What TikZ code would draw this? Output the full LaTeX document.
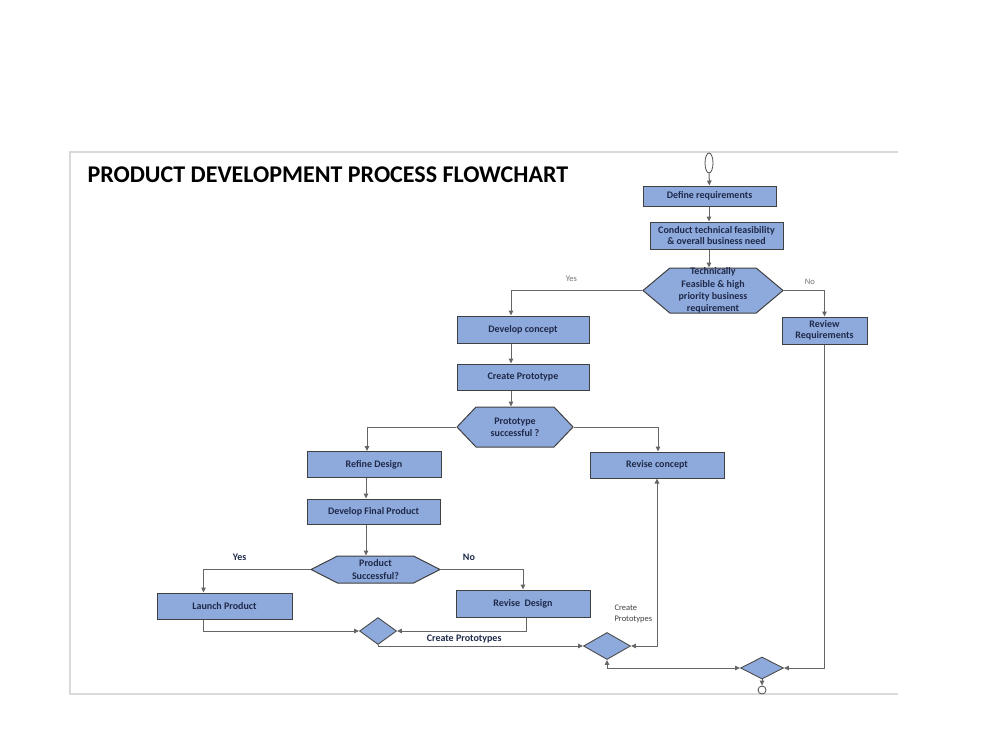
\documentclass[tikz,border=0pt]{standalone}
\usepackage{fontspec}
\setmainfont{Carlito}
\usetikzlibrary{shapes.geometric,shapes.symbols,arrows.meta}
\definecolor{boxblue}{HTML}{8EA9DB}
\definecolor{txtnavy}{HTML}{1F2A4A}
\begin{document}
\begin{tikzpicture}[x=1pt,y=-1pt,line join=miter,>={Triangle[length=5pt,width=4.5pt]},
		box/.style={draw=black!75,line width=1pt,fill=boxblue,text=txtnavy,align=center,
			inner sep=1pt,font=\fontsize{10}{11.5}\selectfont\bfseries},
		hexa/.style={signal,signal to=west and east,draw=black!75,line width=1pt,fill=boxblue,inner sep=0pt},
		hexlbl/.style={text=txtnavy,align=center,font=\fontsize{10}{12.4}\selectfont\bfseries},
		dia/.style={diamond,draw=black!70,line width=.9pt,fill=boxblue,inner sep=0pt},
		conn/.style={draw=black!60,line width=1pt},
		lbl/.style={text=black!55,font=\fontsize{8.5}{9}\selectfont},
		lblb/.style={text=txtnavy,font=\fontsize{10}{10}\selectfont\bfseries},
		lbls/.style={text=black!75,align=left,font=\fontsize{8.5}{11}\selectfont}]
	\useasboundingbox (0,0) rectangle (1000,750);
	\draw[black!15,line width=1.5pt] (898,152) -- (70,152) -- (70,694) -- (898,694);
	\node[anchor=west,font=\fontsize{24}{26}\selectfont\bfseries] (title) at (84,175) {PRODUCT DEVELOPMENT PROCESS FLOWCHART};
	
	\node[ellipse,draw=black!70,line width=.8pt,fill=white,minimum width=8,minimum height=20,inner sep=0pt] (st) at (709,163) {};
	\node[box,minimum width=133,minimum height=20] (def) at (709.5,196) {Define requirements};
	\node[box,minimum width=133,minimum height=27] (con) at (716.5,235.5) {Conduct technical feasibility\\\& overall business need};
	\node[hexa,minimum width=140,minimum height=45,signal pointer angle=80,
		label={[hexlbl]center:{Technically\\Feasible \& high\\priority business\\requirement}}] (h1) at (713,290.5) {};
	\node[box,minimum width=85,minimum height=27] (rr) at (824.5,330.5) {Review\\Requirements};
	\node[box,minimum width=132,minimum height=27] (dc) at (523,329.5) {Develop concept};
	\node[box,minimum width=132,minimum height=26] (cp) at (523,377) {Create Prototype};
	\node[hexa,minimum width=116,minimum height=40,signal pointer angle=93,
		label={[hexlbl]center:{Prototype\\successful ?}}] (h2) at (515,427) {};
	\node[box,minimum width=134,minimum height=26] (rc) at (657,465) {Revise concept};
	\node[box,minimum width=134,minimum height=26] (rd) at (374,464.5) {Refine Design};
	\node[box,minimum width=133,minimum height=25] (fp) at (373.5,511.5) {Develop Final Product};
	\node[hexa,minimum width=129,minimum height=27,signal pointer angle=54,
		label={[hexlbl]center:{Product\\Successful?}}] (h3) at (375.5,569.5) {};
	\node[box,minimum width=135,minimum height=26] (lp) at (224.5,606) {Launch Product};
	\node[box,minimum width=134,minimum height=27] (rv) at (523,603.5) {Revise~~Design};
	\node[dia,minimum width=37,minimum height=27] (d1) at (378,631) {};
	\node[dia,minimum width=47,minimum height=27] (d2) at (607,646) {};
	\node[dia,minimum width=43,minimum height=22] (d3) at (762,668) {};
	\node[circle,draw=black!70,line width=.8pt,fill=white,minimum size=8,inner sep=0pt] (en) at (762,690) {};
	
	\draw[conn,->] (st) -- (def);
	\draw[conn,->] (def.south -| st) -- (con.north -| st);
	\draw[conn,->] (con.south -| st) -- (h1.north -| st);
	\draw[conn,->] (h1.west) -| ([xshift=-12pt]dc.north) node[lbl,pos=.27,above=5pt]{Yes};
	\draw[conn,->] (h1.east) -| (rr.north) node[lbl,pos=.32,above=2pt]{No};
	\draw[conn,->] ([xshift=-12pt]dc.south) -- ([xshift=-12pt]cp.north);
	\draw[conn,->] ([xshift=-12pt]cp.south) -- ([xshift=-12pt]cp.south |- h2.north);
	\draw[conn,->] (h2.west) -| ([xshift=-7pt]rd.north);
	\draw[conn,->] (h2.east) -| ([xshift=1pt]rc.north);
	\draw[conn,->] ([xshift=-8pt]rd.south) -- ([xshift=-8pt]rd.south |- fp.north);
	\draw[conn,->] ([xshift=-8pt]rd.south |- fp.south) -- ([xshift=-8pt]rd.south |- h3.north);
	\draw[conn,->] (h3.west) -| ([xshift=-21pt]lp.north) node[lblb,pos=.33,above=5pt]{Yes};
	\draw[conn,->] (h3.east) -| (rv.north) node[lblb,pos=.17,above=5pt]{No};
	\draw[conn,->] ([xshift=-21pt]lp.south) |- (d1.west);
	\draw[conn,->] ([xshift=3pt]rv.south) |- (d1.east);
	\draw[conn,->] (d1.south) |- (d2.west) node[lblb,pos=.71,above=-1pt]{Create Prototypes};
	\draw[conn,<->] (d2.east) -| (rc.south);
	\node[lbls,anchor=south west] (cpl) at ([xshift=4pt,yshift=6pt]d2.north) {Create\\Prototypes};
	\draw[conn,<->] (d2.south) |- (d3.west);
	\draw[conn,->] (rr.south) |- (d3.east);
	\draw[conn,->] (d3.south) -- (en.north);
\end{tikzpicture}
\end{document}
